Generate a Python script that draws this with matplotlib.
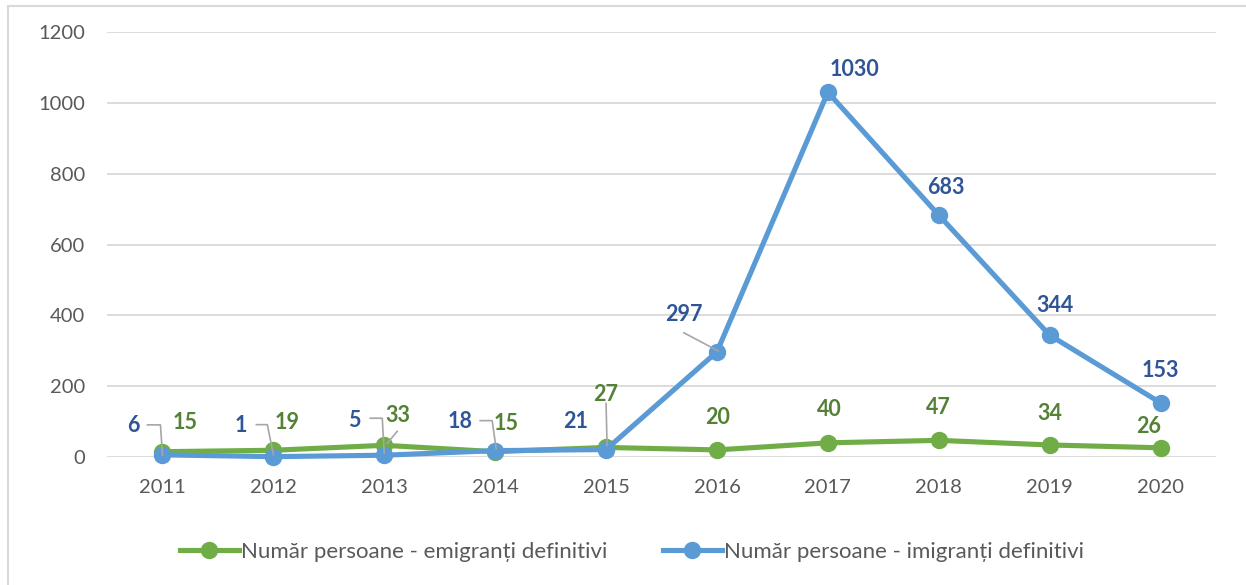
import matplotlib
matplotlib.use("Agg")
import matplotlib.pyplot as plt
from matplotlib.lines import Line2D
from matplotlib.patches import Rectangle
from matplotlib.transforms import IdentityTransform

# ---- data ----
years = ["2011", "2012", "2013", "2014", "2015", "2016", "2017", "2018", "2019", "2020"]
emigranti = [15, 19, 33, 15, 27, 20, 40, 47, 34, 26]
imigranti = [6, 1, 5, 18, 21, 297, 1030, 683, 344, 153]
name_emig = "Număr persoane - emigranți definitivi"
name_imig = "Număr persoane - imigranți definitivi"
y_ticks = [0, 200, 400, 600, 800, 1000, 1200]

# ---- styles ----
GREEN = "#70AD47"
BLUE = "#5B9BD5"
GREEN_LBL = "#538135"
BLUE_LBL = "#2F5597"
TXT = "#595959"
GRID = "#D9D9D9"
LEADER = "#A6A6A6"
FONT = ["Lato", "DejaVu Sans"]

plt.rcParams['font.family'] = FONT

W, H, DPI = 1246, 585, 100
fig = plt.figure(figsize=(W / DPI, H / DPI), dpi=DPI)
fig.patch.set_facecolor("white")

left, right = 107 / W, 1216 / W
bottom, top = 1 - 457 / H, 1 - 32 / H
ax = fig.add_axes([left, bottom, right - left, top - bottom])

LW, MS = 3.7, 11.5
x = list(range(len(years)))
ax.plot(x, emigranti, color=GREEN, lw=LW, marker="o", ms=MS,
        solid_capstyle="round", zorder=3, label=name_emig, clip_on=False)
ax.plot(x, imigranti, color=BLUE, lw=LW, marker="o", ms=MS,
        solid_capstyle="round", zorder=4, label=name_imig, clip_on=False)

ax.set_xlim(-0.5, len(years) - 0.5)
ax.set_ylim(0, 1200)
ax.set_yticks(y_ticks)
ax.set_xticks(x)
ax.set_xticklabels(years)
for s in ax.spines.values():
    s.set_visible(False)
ax.grid(axis="y", color=GRID, lw=1.3)
ax.set_axisbelow(True)
ax.tick_params(axis="both", length=0, labelsize=14.5, labelcolor=TXT)
ax.tick_params(axis="y", pad=16)
ax.tick_params(axis="x", pad=16)

# ---- data label offsets (pixels) ----
blue_off = [(-29, 29), (-32, 31), (-30, 35), (-35, 29), (-30, 28),
            (-33, 37), (27, 23), (7, 28), (5, 30), (0, 32)]
green_off = [(23, 29), (14, 28), (14, 30), (11, 28), (0, 53),
             (1, 32), (1, 33), (0, 33), (0, 31), (-12, 21)]

LBL_FS = 15.5
for i, v in enumerate(imigranti):
    ax.annotate(str(v), xy=(i, v), xytext=blue_off[i], textcoords="offset pixels",
                ha="center", va="center", fontsize=LBL_FS, fontweight="bold",
                color=BLUE_LBL, zorder=6, annotation_clip=False)
for i, v in enumerate(emigranti):
    ax.annotate(str(v), xy=(i, v), xytext=green_off[i], textcoords="offset pixels",
                ha="center", va="center", fontsize=LBL_FS, fontweight="bold",
                color=GREEN_LBL, zorder=6, annotation_clip=False)

# ---- leader lines (pixel offsets relative to points) ----
leaders = [
    (imigranti, 0, [(-15, 30), (-2, 30), (0, 0)]),
    (imigranti, 1, [(-17, 32), (-6, 32), (0, 2)]),
    (imigranti, 2, [(-14, 37), (-2, 37), (0, 2)]),
    (emigranti, 2, [(13, 14), (3, 2)]),
    (imigranti, 3, [(-15, 30), (-3, 30), (1, 2)]),
    (emigranti, 4, [(0, 44), (1, 2)]),
    (imigranti, 5, [(-33, 19), (1, 1)]),
]
for series, i, pts in leaders:
    px, py = ax.transData.transform((i, series[i]))
    xs = [px + dx for dx, dy in pts]
    ys = [py + dy for dx, dy in pts]
    fig.add_artist(Line2D(xs, ys, transform=IdentityTransform(), color=LEADER,
                          lw=1.2, zorder=5))

# ---- legend ----
handles = [Line2D([0], [0], color=GREEN, lw=LW, marker="o", ms=MS),
           Line2D([0], [0], color=BLUE, lw=LW, marker="o", ms=MS)]
leg = fig.legend(handles, [name_emig, name_imig], loc="center",
                 bbox_to_anchor=(632 / W, 1 - 552 / H), ncol=2, frameon=False,
                 fontsize=16, handlelength=2.65, handletextpad=0.1,
                 columnspacing=2.5, labelcolor=TXT)

# ---- outer chart border ----
fig.add_artist(Rectangle((8 / W, -0.1), 1.2, (1 - 6 / H) + 0.1, transform=fig.transFigure,
                         fill=False, edgecolor=GRID, lw=1.5))

fig.savefig("out.png", dpi=DPI, facecolor="white")
